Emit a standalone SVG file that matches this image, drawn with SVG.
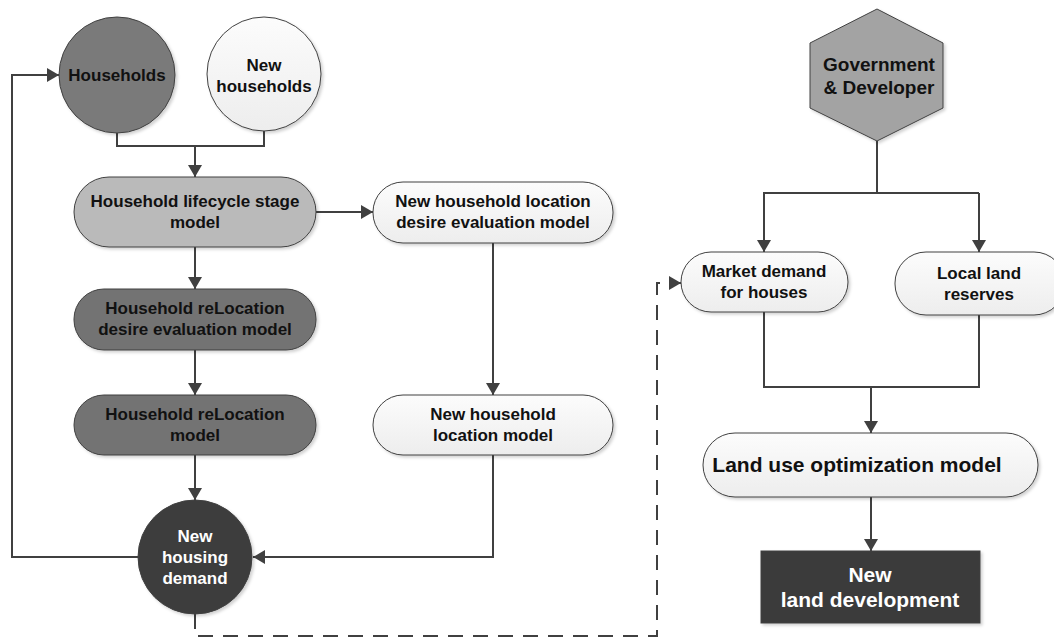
<svg xmlns="http://www.w3.org/2000/svg" width="1054" height="638" viewBox="0 0 1054 638">
  <defs>
    <style>
      .lbl { font-family: "Liberation Sans", Arial, sans-serif; font-weight: bold; font-size: 17px; text-anchor: middle; fill: #111; }
      .big { font-size: 21px; }
      .mid { font-size: 19px; }
      .inv { fill: #ffffff; }
      .shape { stroke: #404040; stroke-width: 1; filter: url(#shadow); }
      .light { fill: url(#lightFill); }
      .conn { fill: none; stroke: #404040; stroke-width: 2; }
      .dash { stroke-dasharray: 15 10; }
    </style>
    <linearGradient id="lightFill" x1="0" y1="0" x2="0" y2="1">
      <stop offset="0" stop-color="#fcfcfc"/>
      <stop offset="1" stop-color="#ededed"/>
    </linearGradient>
    <filter id="shadow" x="-10%" y="-10%" width="125%" height="125%">
      <feDropShadow dx="2" dy="2" stdDeviation="1.5" flood-color="#000" flood-opacity="0.18"/>
    </filter>
    <marker id="arrow" viewBox="0 0 12 14" refX="12" refY="7" markerWidth="12" markerHeight="14" markerUnits="userSpaceOnUse" orient="auto">
      <path d="M0,0 L12,7 L0,14 z" fill="#404040"/>
    </marker>
  </defs>

  <!-- connectors -->
  <g id="connectors">
    <path class="conn" d="M117,133 V146 H264 V130"/>
    <path class="conn" d="M195,146 V177" marker-end="url(#arrow)"/>
    <path class="conn" d="M316,212 H373" marker-end="url(#arrow)"/>
    <path class="conn" d="M195,247 V289" marker-end="url(#arrow)"/>
    <path class="conn" d="M195,350 V395" marker-end="url(#arrow)"/>
    <path class="conn" d="M195,455 V500" marker-end="url(#arrow)"/>
    <path class="conn" d="M493,243 V395" marker-end="url(#arrow)"/>
    <path class="conn" d="M493,455 V557 H253" marker-end="url(#arrow)"/>
    <path class="conn" d="M138,557 H12 V75 H59" marker-end="url(#arrow)"/>
    <path class="conn dash" d="M195,614 V636 H657 V283 H681" marker-end="url(#arrow)"/>
    <path class="conn" d="M877,141 V193 H979"/>
    <path class="conn" d="M877,193 H764 V252" marker-end="url(#arrow)"/>
    <path class="conn" d="M979,193 V252" marker-end="url(#arrow)"/>
    <path class="conn" d="M764,312 V387 H979 V315"/>
    <path class="conn" d="M871,387 V433" marker-end="url(#arrow)"/>
    <path class="conn" d="M871,497 V551" marker-end="url(#arrow)"/>
  </g>

  <!-- left column -->
  <g id="households">
    <circle class="shape" cx="117" cy="75" r="58" fill="#7a7a7a"/>
    <text class="lbl" x="117" y="81">Households</text>
  </g>
  <g id="new-households">
    <circle class="shape light" cx="264" cy="74" r="57"/>
    <text class="lbl" x="264" y="71">New</text>
    <text class="lbl" x="264" y="92">households</text>
  </g>
  <g id="lifecycle-model">
    <rect class="shape" x="74" y="177" width="242" height="70" rx="35" fill="#bababa"/>
    <text class="lbl" x="195" y="207">Household lifecycle stage</text>
    <text class="lbl" x="195" y="228">model</text>
  </g>
  <g id="relocation-desire-model">
    <rect class="shape" x="74" y="289" width="242" height="61" rx="30" fill="#737373"/>
    <text class="lbl" x="195" y="314">Household reLocation</text>
    <text class="lbl" x="195" y="335">desire evaluation model</text>
  </g>
  <g id="relocation-model">
    <rect class="shape" x="74" y="395" width="242" height="60" rx="30" fill="#737373"/>
    <text class="lbl" x="195" y="420">Household reLocation</text>
    <text class="lbl" x="195" y="441">model</text>
  </g>
  <g id="new-housing-demand">
    <circle class="shape" cx="195" cy="557" r="57" fill="#3c3c3c"/>
    <text class="lbl inv" x="195" y="542">New</text>
    <text class="lbl inv" x="195" y="563">housing</text>
    <text class="lbl inv" x="195" y="584">demand</text>
  </g>

  <!-- middle column -->
  <g id="new-location-desire-model">
    <rect class="shape light" x="373" y="182" width="240" height="61" rx="30"/>
    <text class="lbl" x="493" y="207">New household location</text>
    <text class="lbl" x="493" y="228">desire evaluation model</text>
  </g>
  <g id="new-location-model">
    <rect class="shape light" x="373" y="395" width="240" height="60" rx="30"/>
    <text class="lbl" x="493" y="420">New household</text>
    <text class="lbl" x="493" y="441">location model</text>
  </g>

  <!-- right column -->
  <g id="government-developer">
    <polygon class="shape" points="877,9 943,43 943,108 877,141 810,108 810,43" fill="#a3a3a3"/>
    <text class="lbl mid" x="879" y="71">Government</text>
    <text class="lbl mid" x="879" y="94">&amp; Developer</text>
  </g>
  <g id="market-demand">
    <rect class="shape light" x="681" y="252" width="167" height="60" rx="30"/>
    <text class="lbl" x="764" y="277">Market demand</text>
    <text class="lbl" x="764" y="298">for houses</text>
  </g>
  <g id="local-land-reserves">
    <rect class="shape light" x="895" y="252" width="170" height="63" rx="31"/>
    <text class="lbl" x="979" y="279">Local land</text>
    <text class="lbl" x="979" y="300">reserves</text>
  </g>
  <g id="land-use-optimization">
    <rect class="shape light" x="703" y="433" width="335" height="64" rx="32"/>
    <text class="lbl big" x="857" y="472">Land use optimization model</text>
  </g>
  <g id="new-land-development">
    <rect class="shape" x="761" y="551" width="219" height="72" fill="#3b3b3b"/>
    <text class="lbl big inv" x="870" y="582">New</text>
    <text class="lbl big inv" x="870" y="607">land development</text>
  </g>
</svg>
